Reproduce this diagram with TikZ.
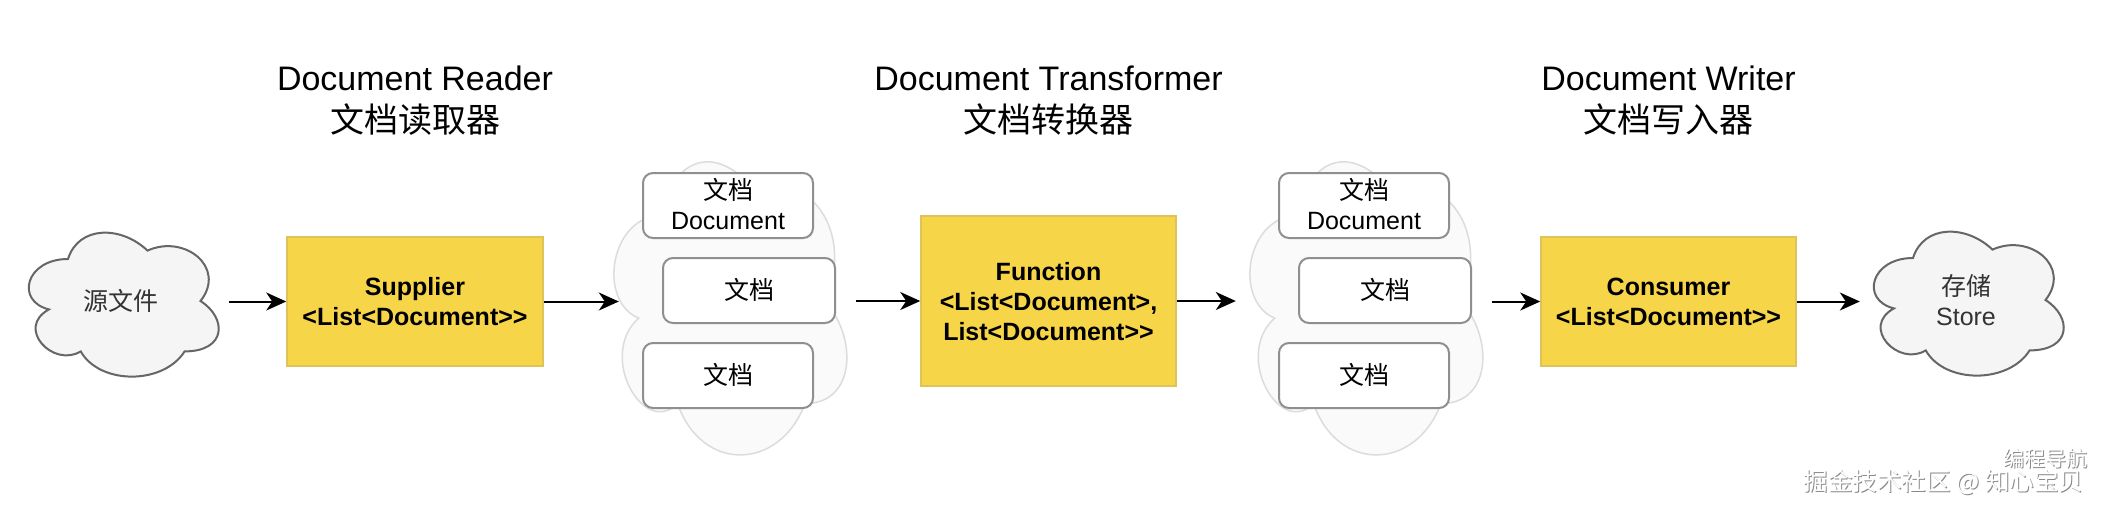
\documentclass[tikz,border=0pt]{standalone}
\usepackage{fontspec}
\usepackage{graphicx}
\setmainfont{Liberation Sans}[Ligatures=TeXOff]
\newfontfamily\cjk{Noto Sans CJK SC}
\usetikzlibrary{arrows.meta}
\definecolor{ylw}{HTML}{F7D549}
\definecolor{ylwb}{HTML}{E0C25A}
\definecolor{cldf}{HTML}{F5F5F5}
\definecolor{clds}{HTML}{666666}
\definecolor{gcf}{HTML}{FAFAFA}
\definecolor{gcs}{HTML}{DCDCDC}
\definecolor{docs}{HTML}{8F8F8F}
\definecolor{txtc}{HTML}{333333}
\definecolor{wms}{HTML}{8A8A8A}
\newcommand\sr{\rule[-6pt]{0pt}{30pt}}
\newcommand\st{\rule[-8.8pt]{0pt}{42pt}}
\newcommand\drawcloud[5]{%
  \begin{scope}[shift={(#1,#2)},xscale=#3,yscale=#4]
    \path[#5] (0.25,0.25) .. controls (0.05,0.25) and (0,0.5) .. (0.16,0.55)
      .. controls (0,0.66) and (0.18,0.9) .. (0.31,0.8)
      .. controls (0.4,1) and (0.7,1) .. (0.8,0.8)
      .. controls (1,0.8) and (1,0.6) .. (0.875,0.5)
      .. controls (1,0.3) and (0.8,0.1) .. (0.625,0.2)
      .. controls (0.5,0.05) and (0.3,0.05) .. (0.25,0.25) -- cycle;
  \end{scope}}
\tikzset{
  ybox/.style={draw=ylwb, fill=ylw, line width=1.5pt, minimum width=256pt, minimum height=129pt,
    inner sep=0pt, align=center, font=\bfseries\fontsize{25}{30}\selectfont},
  docbox/.style={draw=docs, fill=white, line width=2pt, rounded corners=10pt,
    minimum width=170pt, minimum height=65pt, inner sep=0pt, align=center,
    font=\fontsize{25}{30}\selectfont},
  ttl/.style={align=center, inner sep=0pt, font=\fontsize{34}{42}\selectfont},
  cldtxt/.style={align=center, inner sep=0pt, text=txtc, minimum width=212pt, minimum height=168pt,
    font=\fontsize{25}{30}\selectfont},
  grp/.style={inner sep=0pt, minimum width=260pt, minimum height=342pt},
  arr/.style={line width=2pt, -{Stealth[length=20pt,width=18pt,inset=6pt]}},
  wm/.style={inner sep=0pt, font=\cjk}
}
\begin{document}
\begin{tikzpicture}[x=1pt,y=-1pt]
\useasboundingbox (0,0) rectangle (2102,512);
\fill[white] (0,0) rectangle (2102,512);

% titles
\node[ttl] (t1) at (415,99.5) {\st Document Reader\\\st{\cjk 文档读取器}};
\node[ttl] (t2) at (1048.5,99.5) {\st Document Transformer\\\st{\cjk 文档转换器}};
\node[ttl] (t3) at (1668.5,99.5) {\st Document Writer\\\st{\cjk 文档写入器}};

% source cloud
\drawcloud{15}{217}{212}{168}{fill=cldf, draw=clds, line width=2pt}
\node[cldtxt] (src) at (121,301.5) {\sr{\cjk 源文件}};

% store cloud
\drawcloud{1860}{216}{212}{168}{fill=cldf, draw=clds, line width=2pt}
\node[cldtxt] (dst) at (1966,301.5) {\sr{\cjk 存储}\\\sr Store};

% document groups
\drawcloud{597}{130}{260}{342}{fill=gcf, draw=gcs, line width=1.5pt}
\node[grp] (g1) at (727,301) {};
\drawcloud{1233}{130}{260}{342}{fill=gcf, draw=gcs, line width=1.5pt}
\node[grp] (g2) at (1363,301) {};

\node[docbox] (d11) at (728,205.5) {\sr{\cjk 文档}\\\sr Document};
\node[docbox, minimum width=172pt] (d12) at (749,290.5) {\sr{\cjk 文档}};
\node[docbox] (d13) at (728,375.5) {\sr{\cjk 文档}};

\node[docbox] (d21) at (1364,205.5) {\sr{\cjk 文档}\\\sr Document};
\node[docbox, minimum width=172pt] (d22) at (1385,290.5) {\sr{\cjk 文档}};
\node[docbox] (d23) at (1364,375.5) {\sr{\cjk 文档}};

% yellow boxes
\node[ybox] (sup) at (415,301.5) {\sr Supplier\\\sr <List<Document>>};
\node[ybox, minimum width=255pt, minimum height=170pt] (fn) at (1048.5,301) {\sr Function\\\sr <List<Document>,\\\sr List<Document>>};
\node[ybox, minimum width=255pt] (cons) at (1668.5,301.5) {\sr Consumer\\\sr <List<Document>>};

% arrows
\draw[arr] ([xshift=2pt]src.east) -- (sup.west);
\draw[arr] (sup.east) -- ([xshift=22pt]g1.west |- sup.east);
\draw[arr] ([xshift=-1pt]g1.east |- fn.west) -- (fn.west);
\draw[arr] (fn.east) -- ([xshift=3pt]g2.west |- fn.east);
\draw[arr] ([xshift=-1pt]g2.east |- cons.west) -- (cons.west);
\draw[arr] (cons.east) -- (dst.west);

% watermark
\node[wm, text=wms, font=\cjk\fontsize{21}{21}\selectfont] (wm1s) at (2046,459) {编程导航};
\node[wm, text=white, font=\cjk\fontsize{21}{21}\selectfont] (wm1) at (2045,458) {编程导航};
\node[wm, text=wms, font=\cjk\fontsize{24.5}{24.5}\selectfont] (wm2s) at (1944.5,483) {掘金技术社区 @ 知心宝贝};
\node[wm, text=white, font=\cjk\fontsize{24.5}{24.5}\selectfont] (wm2) at (1943.5,482) {掘金技术社区 @ 知心宝贝};
\end{tikzpicture}
\end{document}
